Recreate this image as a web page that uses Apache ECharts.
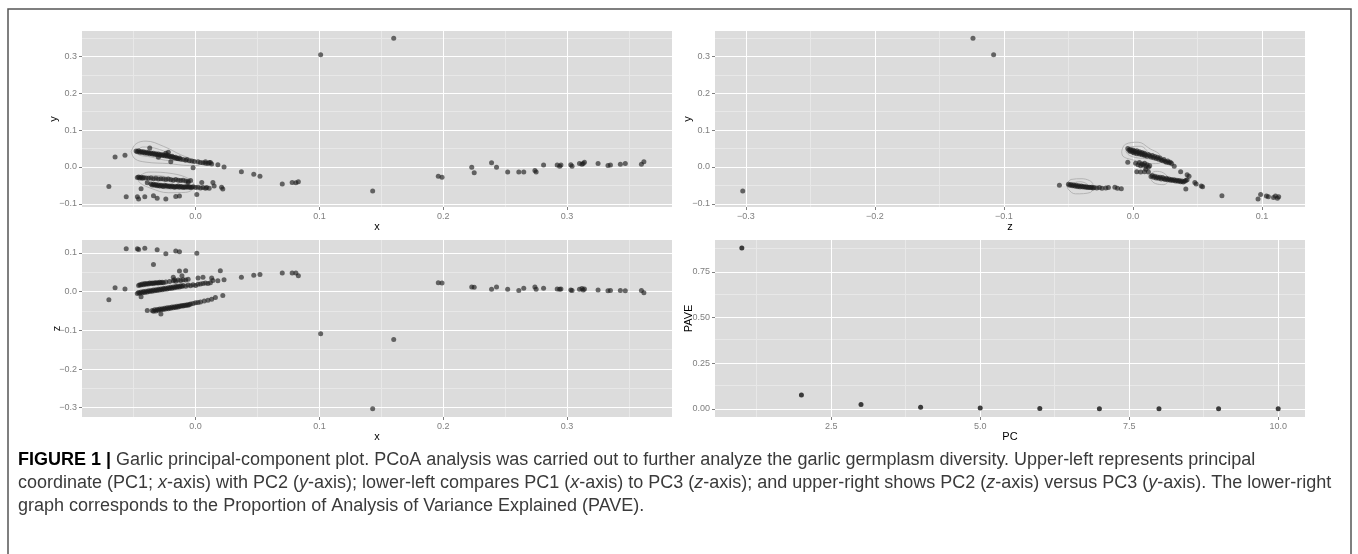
<!DOCTYPE html>
<html>
<head>
<meta charset="utf-8">
<script src="https://cdn.jsdelivr.net/npm/echarts@6/dist/echarts.min.js"></script>
<style>
  html, body { margin: 0; padding: 0; background: #fff; }
  #main { width: 1358px; height: 554px; }
</style>
</head>
<body>
<div id="main"></div>
<script>
// PC1 (x) vs PC2 (y)
var pc1pc2 = [
    [0.101, 0.304], [0.160, 0.349], [0.143, -0.065], [-0.070, -0.053], [-0.065, 0.027], [-0.057, 0.032],
    [-0.056, -0.081], [-0.047, -0.081], [-0.046, -0.087], [-0.041, -0.081], [-0.034, -0.078], [-0.031, -0.085],
    [-0.024, -0.087], [-0.016, -0.080], [-0.013, -0.079], [0.001, -0.075], [-0.044, -0.059], [-0.039, -0.043],
    [-0.002, -0.002], [-0.020, 0.014], [-0.037, 0.051], [0.018, 0.006], [0.023, 0.000], [0.037, -0.013],
    [0.047, -0.020], [0.052, -0.025], [0.070, -0.046], [0.078, -0.042], [0.081, -0.043], [0.083, -0.040],
    [0.196, -0.025], [0.199, -0.028], [0.223, -0.001], [0.225, -0.016], [0.239, 0.011], [0.243, -0.001],
    [0.252, -0.014], [0.261, -0.014], [0.265, -0.014], [0.274, -0.010], [0.275, -0.014], [0.281, 0.005],
    [0.292, 0.005], [0.294, 0.002], [0.295, 0.005], [0.303, 0.006], [0.304, 0.002], [0.310, 0.009],
    [0.312, 0.007], [0.313, 0.009], [0.314, 0.013], [0.325, 0.009], [0.333, 0.004], [0.335, 0.005],
    [0.343, 0.007], [0.347, 0.009], [0.360, 0.007], [0.362, 0.014],
    [0.014, -0.042], [0.015, -0.052], [0.021, -0.055], [0.022, -0.060], [0.005, -0.042], [-0.006, -0.042],
    [0.009, -0.056], [0.011, -0.058], [0.012, 0.012], [0.008, 0.014],
    // upper band
    [-0.048, 0.043], [-0.047, 0.041], [-0.046, 0.044], [-0.045, 0.040], [-0.044, 0.042], [-0.043, 0.039],
    [-0.042, 0.041], [-0.041, 0.038], [-0.040, 0.040], [-0.039, 0.037], [-0.038, 0.039], [-0.037, 0.036],
    [-0.036, 0.038], [-0.035, 0.035], [-0.034, 0.037], [-0.033, 0.034], [-0.032, 0.036], [-0.031, 0.033],
    [-0.030, 0.035], [-0.029, 0.032], [-0.028, 0.034], [-0.027, 0.031], [-0.026, 0.033], [-0.025, 0.030],
    [-0.024, 0.032], [-0.023, 0.029], [-0.022, 0.031], [-0.021, 0.028], [-0.020, 0.027], [-0.019, 0.029],
    [-0.018, 0.026], [-0.017, 0.024], [-0.016, 0.026], [-0.015, 0.023], [-0.014, 0.022], [-0.013, 0.024],
    [-0.012, 0.021], [-0.010, 0.020], [-0.008, 0.018], [-0.007, 0.020], [-0.005, 0.017], [-0.003, 0.016],
    [-0.001, 0.015], [0.002, 0.014], [0.004, 0.012], [0.006, 0.011], [0.008, 0.010], [0.010, 0.009],
    [0.011, 0.012], [0.013, 0.008], [-0.022, 0.040], [-0.030, 0.026], [-0.024, 0.037],
    // middle band
    [-0.047, -0.029], [-0.046, -0.027], [-0.045, -0.030], [-0.044, -0.028], [-0.043, -0.031], [-0.042, -0.029],
    [-0.040, -0.030], [-0.038, -0.031], [-0.036, -0.030], [-0.034, -0.032], [-0.032, -0.031], [-0.030, -0.033],
    [-0.028, -0.032], [-0.026, -0.033], [-0.024, -0.034], [-0.022, -0.033], [-0.020, -0.035], [-0.018, -0.036],
    [-0.016, -0.034], [-0.014, -0.036], [-0.012, -0.037], [-0.010, -0.036], [-0.008, -0.038], [-0.006, -0.039],
    [-0.004, -0.037],
    // lower band
    [-0.036, -0.046], [-0.035, -0.049], [-0.034, -0.047], [-0.033, -0.050], [-0.032, -0.048], [-0.031, -0.051],
    [-0.030, -0.049], [-0.029, -0.052], [-0.028, -0.050], [-0.027, -0.051], [-0.026, -0.053], [-0.025, -0.050],
    [-0.024, -0.052], [-0.023, -0.051], [-0.022, -0.053], [-0.021, -0.052], [-0.020, -0.054], [-0.019, -0.052],
    [-0.018, -0.053], [-0.017, -0.055], [-0.016, -0.053], [-0.015, -0.054], [-0.014, -0.052], [-0.013, -0.055],
    [-0.012, -0.053], [-0.011, -0.054], [-0.010, -0.056], [-0.009, -0.054], [-0.008, -0.055], [-0.007, -0.053],
    [-0.006, -0.055], [-0.005, -0.054], [-0.004, -0.056], [-0.003, -0.055], [-0.002, -0.054], [0.000, -0.056],
    [0.002, -0.055], [0.004, -0.057], [0.006, -0.056], [0.008, -0.058]
];

// PC3 (z) vs PC2 (y)
var pc3pc2 = [
    [-0.3025, -0.065], [-0.124, 0.349], [-0.108, 0.304], [0.069, -0.078], [0.097, -0.087], [0.099, -0.075],
    [0.1035, -0.079], [0.105, -0.081], [0.109, -0.083], [0.1105, -0.079], [0.112, -0.085], [0.113, -0.081],
    [-0.004, 0.050], [-0.003, 0.045], [-0.002, 0.047], [-0.002, 0.042], [-0.001, 0.044], [0.000, 0.040],
    [0.000, 0.046], [0.001, 0.043], [0.001, 0.038], [0.002, 0.041], [0.003, 0.036], [0.003, 0.044],
    [0.004, 0.039], [0.005, 0.035], [0.005, 0.041], [0.006, 0.037], [0.007, 0.033], [0.007, 0.039],
    [0.008, 0.035], [0.009, 0.031], [0.009, 0.037], [0.010, 0.033], [0.011, 0.029], [0.012, 0.034],
    [0.013, 0.030], [0.014, 0.027], [0.015, 0.031], [0.016, 0.025], [0.017, 0.028], [0.018, 0.023],
    [0.019, 0.026], [0.020, 0.021], [0.021, 0.024], [0.022, 0.019], [0.023, 0.017], [0.024, 0.020],
    [0.025, 0.015], [0.026, 0.013], [0.027, 0.016], [0.028, 0.011], [0.029, 0.013], [0.030, 0.009],
    [0.032, 0.002], [-0.004, 0.013],
    [0.002, 0.010], [0.004, 0.006], [0.005, 0.012], [0.006, 0.003], [0.007, 0.008], [0.008, 0.005],
    [0.009, 0.010], [0.010, 0.002], [0.011, 0.006], [0.012, -0.001], [0.013, 0.003], [0.003, -0.013],
    [0.006, -0.014], [0.009, -0.013], [0.012, -0.014], [0.010, -0.006],
    [0.014, -0.026], [0.015, -0.023], [0.016, -0.028], [0.017, -0.025], [0.018, -0.030], [0.019, -0.027],
    [0.020, -0.031], [0.021, -0.028], [0.022, -0.033], [0.023, -0.029], [0.024, -0.032], [0.025, -0.034],
    [0.026, -0.031], [0.027, -0.035], [0.028, -0.033], [0.029, -0.036], [0.030, -0.034], [0.031, -0.037],
    [0.032, -0.035], [0.033, -0.038], [0.034, -0.036], [0.035, -0.039], [0.036, -0.037], [0.037, -0.040],
    [0.038, -0.038], [0.039, -0.041], [0.040, -0.039], [0.041, -0.037], [0.042, -0.035], [0.037, -0.013],
    [0.042, -0.021], [0.0435, -0.025], [0.041, -0.060], [0.048, -0.042], [0.049, -0.046], [0.053, -0.052],
    [0.054, -0.054],
    [-0.057, -0.050], [-0.050, -0.047], [-0.049, -0.050], [-0.048, -0.048], [-0.047, -0.051], [-0.046, -0.049],
    [-0.045, -0.052], [-0.044, -0.050], [-0.043, -0.053], [-0.042, -0.051], [-0.041, -0.054], [-0.040, -0.052],
    [-0.039, -0.054], [-0.038, -0.053], [-0.037, -0.055], [-0.036, -0.054], [-0.035, -0.056], [-0.034, -0.055],
    [-0.033, -0.056], [-0.032, -0.055], [-0.031, -0.057], [-0.030, -0.056], [-0.028, -0.057], [-0.026, -0.056],
    [-0.024, -0.058], [-0.021, -0.057], [-0.019, -0.056], [-0.014, -0.055], [-0.012, -0.058], [-0.009, -0.059]
];

// PC1 (x) vs PC3 (z)
var pc1pc3 = [
    [-0.070, -0.021], [-0.065, 0.010], [-0.057, 0.007], [-0.056, 0.111], [-0.047, 0.111], [-0.046, 0.109],
    [-0.041, 0.112], [-0.031, 0.108], [-0.024, 0.098], [-0.016, 0.105], [-0.013, 0.103], [0.001, 0.099],
    [-0.034, 0.070], [-0.044, -0.013], [-0.039, -0.049], [-0.034, -0.051], [-0.028, -0.058],
    [-0.013, 0.053], [-0.008, 0.054], [-0.011, 0.041], [-0.018, 0.037], [-0.017, 0.031],
    [0.020, 0.054], [0.023, 0.031], [0.018, 0.028], [0.013, 0.035], [0.014, 0.029], [0.006, 0.037], [0.002, 0.035],
    [0.037, 0.037], [0.047, 0.042], [0.052, 0.044], [0.070, 0.048], [0.078, 0.048], [0.081, 0.048], [0.083, 0.041],
    [0.101, -0.109], [0.160, -0.124], [0.143, -0.303],
    [0.196, 0.023], [0.199, 0.022], [0.223, 0.012], [0.225, 0.011], [0.239, 0.006], [0.243, 0.012],
    [0.252, 0.006], [0.261, 0.003], [0.265, 0.009], [0.274, 0.012], [0.275, 0.006], [0.281, 0.009],
    [0.292, 0.007], [0.294, 0.006], [0.295, 0.007], [0.303, 0.004], [0.304, 0.003], [0.310, 0.006],
    [0.312, 0.008], [0.313, 0.004], [0.314, 0.007], [0.325, 0.004], [0.333, 0.002], [0.335, 0.003],
    [0.343, 0.003], [0.347, 0.002], [0.360, 0.003], [0.362, -0.003],
    // lower band
    [-0.035, -0.049], [-0.033, -0.047], [-0.032, -0.050], [-0.031, -0.046], [-0.030, -0.048], [-0.029, -0.045],
    [-0.028, -0.047], [-0.027, -0.044], [-0.026, -0.046], [-0.025, -0.043], [-0.024, -0.045], [-0.023, -0.042],
    [-0.022, -0.044], [-0.021, -0.041], [-0.020, -0.043], [-0.019, -0.040], [-0.018, -0.042], [-0.017, -0.039],
    [-0.016, -0.041], [-0.015, -0.038], [-0.014, -0.040], [-0.013, -0.037], [-0.012, -0.038], [-0.011, -0.036],
    [-0.010, -0.037], [-0.009, -0.035], [-0.008, -0.036], [-0.007, -0.034], [-0.006, -0.035], [-0.005, -0.033],
    [-0.004, -0.032], [-0.002, -0.031], [0.000, -0.029], [0.002, -0.028], [0.004, -0.027], [0.007, -0.024],
    [0.010, -0.022], [0.013, -0.020], [0.016, -0.015], [0.022, -0.010],
    // middle band
    [-0.047, -0.005], [-0.046, -0.002], [-0.045, -0.004], [-0.044, -0.001], [-0.043, -0.003], [-0.042, 0.000],
    [-0.041, -0.002], [-0.040, 0.001], [-0.039, -0.001], [-0.038, 0.002], [-0.037, 0.000], [-0.036, 0.003],
    [-0.035, 0.001], [-0.034, 0.004], [-0.033, 0.002], [-0.032, 0.005], [-0.031, 0.003], [-0.030, 0.006],
    [-0.029, 0.004], [-0.028, 0.007], [-0.027, 0.005], [-0.026, 0.008], [-0.025, 0.006], [-0.024, 0.009],
    [-0.023, 0.007], [-0.022, 0.010], [-0.021, 0.008], [-0.020, 0.011], [-0.019, 0.009], [-0.018, 0.012],
    [-0.017, 0.010], [-0.016, 0.013], [-0.015, 0.011], [-0.014, 0.014], [-0.013, 0.012], [-0.012, 0.015],
    [-0.011, 0.013], [-0.010, 0.016], [-0.008, 0.014], [-0.006, 0.017], [-0.004, 0.015], [-0.002, 0.018],
    [0.000, 0.016], [0.002, 0.019], [0.004, 0.020], [0.006, 0.021], [0.008, 0.022], [0.010, 0.021], [0.012, 0.023],
    // upper band
    [-0.046, 0.016], [-0.045, 0.018], [-0.044, 0.017], [-0.043, 0.020], [-0.042, 0.018], [-0.041, 0.021],
    [-0.040, 0.019], [-0.039, 0.021], [-0.038, 0.020], [-0.037, 0.022], [-0.036, 0.021], [-0.035, 0.022],
    [-0.034, 0.021], [-0.033, 0.023], [-0.032, 0.022], [-0.031, 0.023], [-0.030, 0.022], [-0.029, 0.024],
    [-0.028, 0.023], [-0.027, 0.024], [-0.026, 0.023], [-0.024, 0.025], [-0.021, 0.026], [-0.018, 0.028],
    [-0.016, 0.027], [-0.014, 0.030], [-0.012, 0.029], [-0.010, 0.031], [-0.008, 0.030], [-0.006, 0.032]
];

// proportion of variance explained per component
var pcNumber = [1, 2, 3, 4, 5, 6, 7, 8, 9, 10];
var pave = [0.880, 0.077, 0.024, 0.009, 0.005, 0.003, 0.001, 0.001, 0.001, 0.001];

// density contour outlines
var contourA1 = [[-0.052, 0.042], [-0.048, 0.063], [-0.040, 0.070], [-0.026, 0.056], [-0.012, 0.033], [0.001, 0.015], [0.003, 0.005], [-0.005, 0.004], [-0.022, 0.009], [-0.040, 0.013], [-0.049, 0.022]];
var contourA2 = [[-0.047, 0.042], [-0.043, 0.054], [-0.033, 0.051], [-0.019, 0.033], [-0.012, 0.020], [-0.020, 0.017], [-0.036, 0.027], [-0.046, 0.033]];
var contourB1 = [[-0.047, -0.030], [-0.038, -0.014], [-0.019, -0.018], [-0.005, -0.033], [-0.001, -0.052], [-0.008, -0.069], [-0.022, -0.070], [-0.036, -0.058], [-0.045, -0.043]];
var contourB2 = [[-0.044, -0.029], [-0.034, -0.023], [-0.019, -0.030], [-0.006, -0.043], [-0.008, -0.058], [-0.022, -0.060], [-0.036, -0.048]];
var contourC1 = [[-0.0087, 0.042], [-0.006, 0.061], [0.004, 0.067], [0.0124, 0.051], [0.021, 0.029], [0.021, 0.011], [0.014, 0.009], [-0.001, 0.020], [-0.0077, 0.029]];
var contourC2 = [[-0.0054, 0.042], [-0.0027, 0.054], [0.0057, 0.056], [0.0124, 0.038], [0.0157, 0.022], [0.0074, 0.023], [-0.0027, 0.031]];
var contourD1 = [[-0.0513, -0.048], [-0.048, -0.034], [-0.0395, -0.032], [-0.031, -0.048], [-0.0328, -0.069], [-0.0446, -0.073], [-0.050, -0.061]];
var contourD2 = [[-0.048, -0.046], [-0.0412, -0.040], [-0.0345, -0.051], [-0.0395, -0.060], [-0.047, -0.055]];
var contourE1 = [[0.0134, -0.021], [0.0174, -0.012], [0.0235, -0.016], [0.0275, -0.034], [0.024, -0.048], [0.0174, -0.045], [0.014, -0.034]];

// axis ranges, ticks
var pc1Range = [-0.0917, 0.3847];
var pc2Range = [-0.1087, 0.3687];
var pc3Range = [-0.324, 0.1334];
var pcRange = [0.55, 10.45];
var paveRange = [-0.044, 0.924];

var pc1Ticks = [0.0, 0.1, 0.2, 0.3];
var pc1Minor = [-0.05, 0.05, 0.15, 0.25, 0.35];
var pc2Ticks = [-0.1, 0.0, 0.1, 0.2, 0.3];
var pc2Minor = [-0.05, 0.05, 0.15, 0.25, 0.35];
var pc3Ticks = [-0.3, -0.2, -0.1, 0.0, 0.1];
var pc3Minor = [-0.25, -0.15, -0.05, 0.05];
var pcTicks = [2.5, 5.0, 7.5, 10.0];
var pcMinor = [1.25, 3.75, 6.25, 8.75];
var paveTicks = [0.0, 0.25, 0.5, 0.75];
var paveMinor = [0.125, 0.375, 0.625, 0.875];

var FONT = '"Liberation Sans", Arial, sans-serif';
var myChart = echarts.init(document.getElementById('main'));

function fmt(digits) {
    return function (v) {
        return v.toFixed(digits).replace('-', '\u2212');
    };
}

function axis(grid, range, ticks, digits, name, gap, namePad) {
    return {
        type: 'value',
        gridIndex: grid,
        min: range[0],
        max: range[1],
        name: name,
        nameLocation: 'middle',
        nameGap: gap,
        nameMoveOverlap: false,
        nameTextStyle: {color: '#000', fontSize: 11, fontFamily: FONT, padding: namePad || 0},
        axisLine: {show: false, onZero: false},
        axisTick: {show: true, customValues: ticks, length: 3, lineStyle: {color: '#7f7f7f', width: 1}},
        axisLabel: {customValues: ticks, formatter: fmt(digits), color: '#7f7f7f', fontSize: 9, fontFamily: FONT, margin: 5},
        splitLine: {show: false}
    };
}

function gridLines(grid, xs, ys, color, z) {
    var lines = xs.map(function (v) { return {xAxis: v}; })
        .concat(ys.map(function (v) { return {yAxis: v}; }));
    return {
        type: 'scatter',
        xAxisIndex: grid,
        yAxisIndex: grid,
        data: [],
        silent: true,
        markLine: {
            silent: true,
            z: z,
            symbol: ['none', 'none'],
            label: {show: false},
            emphasis: {disabled: true},
            lineStyle: {color: color, width: 1, type: 'solid'},
            data: lines
        }
    };
}

function points(grid, data, color) {
    return {
        type: 'scatter',
        xAxisIndex: grid,
        yAxisIndex: grid,
        z: 4,
        symbolSize: 5,
        itemStyle: {color: color},
        data: data
    };
}

function contour(grid, ring) {
    return {
        type: 'line',
        xAxisIndex: grid,
        yAxisIndex: grid,
        z: 3,
        smooth: 0.4,
        symbol: 'none',
        silent: true,
        lineStyle: {color: '#a9a9a9', width: 0.8},
        data: ring.concat([ring[0]])
    };
}

var paveData = pcNumber.map(function (p, i) { return [p, pave[i]]; });

var minorColor = '#e8e8e8', majorColor = '#ffffff';
var dotColor = 'rgba(28,28,28,0.8)';

var series = [
    gridLines(0, pc1Minor, pc2Minor, minorColor, 1), gridLines(0, pc1Ticks, pc2Ticks, majorColor, 2),
    gridLines(1, pc1Minor, pc3Minor, minorColor, 1), gridLines(1, pc1Ticks, pc3Ticks, majorColor, 2),
    gridLines(2, pc3Minor, pc2Minor, minorColor, 1), gridLines(2, pc3Ticks, pc2Ticks, majorColor, 2),
    gridLines(3, pcMinor, paveMinor, minorColor, 1), gridLines(3, pcTicks, paveTicks, majorColor, 2),
    contour(0, contourA1), contour(0, contourA2), contour(0, contourB1), contour(0, contourB2),
    contour(2, contourC1), contour(2, contourC2), contour(2, contourD1), contour(2, contourD2), contour(2, contourE1),
    points(0, pc1pc2, dotColor),
    points(1, pc1pc3, dotColor),
    points(2, pc3pc2, dotColor),
    points(3, paveData, '#111')
];

var panel = {show: true, backgroundColor: '#dcdcdc', borderWidth: 0};
var capStyle = {fontSize: 18, fontFamily: FONT, fill: '#3a3a3a'};

var option = {
    animation: false,
    grid: [
        Object.assign({left: 82, top: 31, width: 590, height: 176}, panel),
        Object.assign({left: 82, top: 240, width: 590, height: 177}, panel),
        Object.assign({left: 715, top: 31, width: 590, height: 176}, panel),
        Object.assign({left: 715, top: 240, width: 590, height: 177}, panel)
    ],
    xAxis: [
        axis(0, pc1Range, pc1Ticks, 1, 'x', 14),
        axis(1, pc1Range, pc1Ticks, 1, 'x', 14),
        axis(2, pc3Range, pc3Ticks, 1, 'z', 14),
        axis(3, pcRange, pcTicks, 1, 'PC', 14)
    ],
    yAxis: [
        axis(0, pc2Range, pc2Ticks, 1, 'y', 23),
        axis(1, pc3Range, pc3Ticks, 1, 'z', 20),
        axis(2, pc2Range, pc2Ticks, 1, 'y', 22),
        axis(3, paveRange, paveTicks, 2, 'PAVE', 21, [0, 0, 0, 20])
    ],
    series: series,
    graphic: [
        {
            type: 'rect', silent: true, z: 100,
            shape: {x: 8, y: 9, width: 1343, height: 600},
            style: {fill: 'none', stroke: '#555', lineWidth: 1.5}
        },
        {
            type: 'text', left: 18, top: 451, z: 100,
            style: Object.assign({
                text: '{b|FIGURE 1 |} Garlic principal-component plot. PCoA analysis was carried out to further analyze the garlic germplasm diversity. Upper-left represents principal',
                rich: {b: {fontWeight: 'bold', fill: '#000', fontSize: 18, fontFamily: FONT}}
            }, capStyle)
        },
        {
            type: 'text', left: 18, top: 474, z: 100,
            style: Object.assign({
                text: 'coordinate (PC1; {i|x}-axis) with PC2 ({i|y}-axis); lower-left compares PC1 ({i|x}-axis) to PC3 ({i|z}-axis); and upper-right shows PC2 ({i|z}-axis) versus PC3 ({i|y}-axis). The lower-right',
                rich: {i: {fontStyle: 'italic', fill: '#3a3a3a', fontSize: 18, fontFamily: FONT}}
            }, capStyle)
        },
        {
            type: 'text', left: 18, top: 497, z: 100,
            style: Object.assign({
                text: 'graph corresponds to the Proportion of Analysis of Variance Explained (PAVE).'
            }, capStyle)
        }
    ]
};

myChart.setOption(option);
</script>
</body>
</html>
